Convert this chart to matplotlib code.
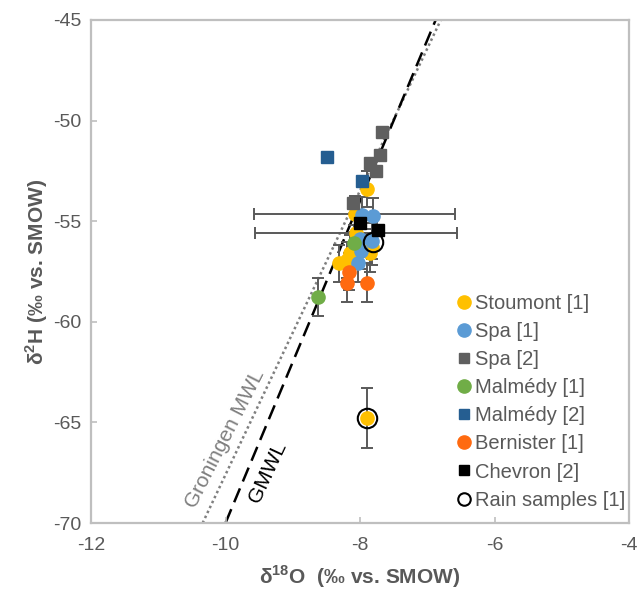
import matplotlib
matplotlib.use("Agg")
import matplotlib.pyplot as plt
from matplotlib.lines import Line2D
import numpy as np

plt.rcParams['font.family'] = ['Liberation Sans', 'DejaVu Sans']
plt.rcParams['mathtext.fontset'] = 'custom'
plt.rcParams['mathtext.rm'] = 'Liberation Sans'
plt.rcParams['mathtext.bf'] = 'Liberation Sans:bold'
plt.rcParams['axes.unicode_minus'] = False

# ---------------- data ----------------
stoumont_x = [-7.90, -8.08, -8.06, -8.15, -7.85, -8.20, -8.31, -7.82, -7.90]
stoumont_y = [-53.4, -54.65, -55.6, -56.6, -56.6, -56.93, -57.1, -56.3, -64.78]
stoumont_xerr = [0, 1.5, 1.5, 0, 0, 0, 0, 0, 0]
stoumont_yerr = [0.9, 0.9, 0.9, 0.9, 0.9, 0.9, 0.9, 0.9, 1.5]

spa1_x = [-7.97, -7.80, -7.98, -8.03, -7.82, -8.00]
spa1_y = [-54.7, -54.75, -56.5, -57.1, -56.0, -55.9]
spa1_yerr = [0.9, 0.9, 0.9, 0.9, 0.9, 0.9]

spa2_x = [-7.68, -7.70, -7.85, -7.76, -8.10]
spa2_y = [-50.55, -51.71, -52.12, -52.49, -54.11]

malm1_x = [-8.09, -8.62]
malm1_y = [-56.1, -58.75]
malm1_yerr = [0.9, 0.95]

malm2_x = [-8.49, -7.97]
malm2_y = [-51.82, -53.0]

bern_x = [-8.17, -8.19, -7.89]
bern_y = [-57.5, -58.05, -58.05]
bern_yerr = [0.9, 0.95, 0.95]

chev_x = [-8.00, -7.73]
chev_y = [-55.07, -55.44]

rain_x = [-7.80, -7.90]
rain_y = [-56.05, -64.78]

# meteoric water lines: d2H = slope * d18O + intercept
gmwl_slope, gmwl_icpt = 8.0, 10.0
gron_slope, gron_icpt = 7.06, 3.0
line_y = np.array([-70.0, -45.0])

ERR = "#595959"
TXT = "#595959"
GRID = "#BFBFBF"

fig = plt.figure(figsize=(6.38, 5.91), dpi=100)
ax = fig.add_axes([91/638, 1-523/591, 538/638, 503/591])

# lines
ax.plot((line_y - gron_icpt) / gron_slope, line_y, color="#7F7F7F", lw=1.8,
        linestyle=(0, (1, 1.2)), zorder=1)
ax.plot((line_y - gmwl_icpt) / gmwl_slope, line_y, color="black", lw=1.8,
        linestyle=(0, (6, 3)), zorder=1)

ekw = dict(ecolor=ERR, elinewidth=1.4, capsize=4, capthick=1.4, linestyle="none")
handles = []

def circ(x, y, yerr, color, label, xerr=None):
    ax.errorbar(x, y, xerr=xerr, yerr=yerr, marker="o", ms=9.5, mfc=color,
                mec=color, zorder=3, **ekw)
    handles.append(Line2D([], [], marker="o", ms=9.5, color=color, ls="none", label=label))

def sq(x, y, color, label):
    ax.plot(x, y, "s", ms=8, color=color, zorder=4)
    handles.append(Line2D([], [], marker="s", ms=7, color=color, ls="none", label=label))

circ(stoumont_x, stoumont_y, stoumont_yerr, "#FFC000", "Stoumont [1]", xerr=stoumont_xerr)
circ(spa1_x, spa1_y, spa1_yerr, "#5B9BD5", "Spa [1]")
sq(spa2_x, spa2_y, "#5F5F5F", "Spa [2]")
circ(malm1_x, malm1_y, malm1_yerr, "#70AD47", "Malmédy [1]")
sq(malm2_x, malm2_y, "#255E91", "Malmédy [2]")
circ(bern_x, bern_y, bern_yerr, "#FF6A10", "Bernister [1]")
sq(chev_x, chev_y, "black", "Chevron [2]")
ax.plot(rain_x, rain_y, "o", ms=14, mfc="none", mec="black", mew=1.5, zorder=5)
handles.append(Line2D([], [], marker="o", ms=9, mfc="none", mec="black", mew=1.5,
                      ls="none", label="Rain samples [1]"))

ax.text(-10.0, -65.8, "Groningen MWL", color="#7F7F7F", fontsize=15,
        rotation=63, ha="center", va="center")
ax.text(-9.37, -67.5, "GMWL", color="black", fontsize=15,
        rotation=65, ha="center", va="center")

ax.set_xlim(-12, -4)
ax.set_ylim(-70, -45)
ax.set_xticks([-12, -10, -8, -6, -4])
ax.set_yticks([-70, -65, -60, -55, -50, -45])
ax.tick_params(direction="in", length=4, width=1.2, color=GRID, labelsize=14,
               labelcolor=TXT, pad=7)
ax.tick_params(axis="x", pad=10)
for s in ax.spines.values():
    s.set_color(GRID)
    s.set_linewidth(1.6)

ax.set_xlabel("δ$^{\\mathbf{18}}$O  (‰ vs. SMOW)", fontsize=15, fontweight="bold",
              color=TXT, labelpad=7)
ax.set_ylabel("δ$^{\\mathbf{2}}$H (‰ vs. SMOW)", fontsize=15, fontweight="bold",
              color=TXT, labelpad=2)

leg = ax.legend(handles=handles, loc="upper left", bbox_to_anchor=(0.66, 0.475),
                frameon=False, fontsize=14.5, handlelength=0.8, handletextpad=0.15,
                labelspacing=0.45, borderpad=0)
for t in leg.get_texts():
    t.set_color(TXT)

fig.savefig("out.png", dpi=100)
